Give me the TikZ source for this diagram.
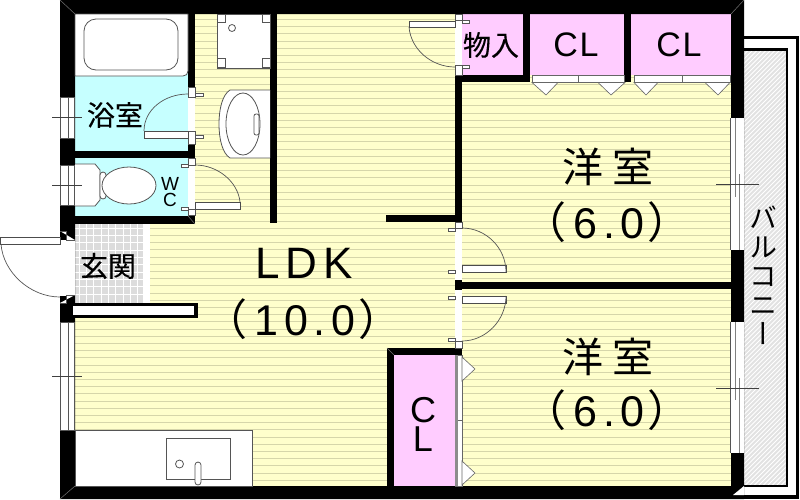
\documentclass[tikz,border=0pt]{standalone}
\usepackage{fontspec}
\setmainfont{Liberation Sans}
\newfontfamily\cjkfont{Noto Sans CJK JP}
\newfontfamily\labelfont[FakeBold=0.25]{Noto Sans CJK JP}
\newfontfamily\vertfont[RawFeature=+vert]{Noto Sans CJK JP}
\newfontfamily\spacedfont[LetterSpace=13]{Liberation Sans}
\newfontfamily\spacedcjk[LetterSpace=22]{Noto Sans CJK JP}
\newfontfamily\closetfont[LetterSpace=5]{Liberation Sans}
\usetikzlibrary{positioning}
\definecolor{floorc}{HTML}{FFFFCC}
\definecolor{stripec}{HTML}{D6D6AA}
\definecolor{pinkc}{HTML}{FFCCFF}
\definecolor{bluec}{HTML}{C6FFFF}
\definecolor{tilec}{HTML}{DCDCDC}
\definecolor{hatchc}{HTML}{E2E2E2}
\definecolor{linec}{HTML}{555555}
\tikzset{
	wall/.style={fill=black,draw=none},
	fixture/.style={fill=white,draw=linec,line width=0.8pt},
	doorleaf/.style={fill=white,draw=black!70,line width=0.6pt},
	doorarc/.style={draw=linec,line width=0.7pt},
	nub/.style={fill=white,draw=linec,line width=0.6pt},
	tick/.style={draw=black!75,line width=0.6pt},
	miter/.style={draw=black!55,line width=0.5pt},
	sash/.style={draw=black!50,line width=1pt}
}
\begin{document}
\begin{tikzpicture}[x=1pt,y=-1pt]
\useasboundingbox (0,0) rectangle (800,499);

\begin{scope}
	\fill[floorc] (75,14) rectangle (731,486);
	\foreach \k in {2,...,66}
		\draw[stripec,line width=0.8pt] (75,5+7.2*\k) -- (731,5+7.2*\k);

	\fill[bluec] (75,14) rectangle (188,151);
	\fill[bluec] (75,158) rectangle (188,216);
	\fill[pinkc] (462,14) rectangle (731,75);
	\fill[pinkc] (394,355) rectangle (456,486);

	\fill[tilec] (75,224) rectangle (143,303);
	\foreach \k in {1,...,9}
		\draw[white,line width=1pt] (75+7.3*\k-3,224) -- (75+7.3*\k-3,303);
	\foreach \k in {1,...,10}
		\draw[white,line width=1pt] (75,224+7.3*\k-3) -- (143,224+7.3*\k-3);
	\fill[white] (143,224) rectangle (150,303);

	\fill[black] (743,36) rectangle (799,499);
	\fill[white] (743,39) rectangle (796,495);
	\fill[black] (743,48) rectangle (788,487);
	\fill[hatchc] (743,51) rectangle (785.5,484.5);
	\begin{scope}
		\clip (743,51) rectangle (785.5,484.5);
		\foreach \k in {0,...,110}
			\draw[white,line width=0.8pt] (743,51+4.5*\k) -- (793,1+4.5*\k);
	\end{scope}
\end{scope}

\begin{scope}[every path/.style={wall}]
	\path[even odd rule] (60,0) rectangle (744,499) (75,14) rectangle (731,486);
	\path (188,14) rectangle (195,87);
	\path (188,144) rectangle (195,158);
	\path (75,151) rectangle (195,158);
	\path (75,216) rectangle (195,224);
	\path (188,209) rectangle (195,224);
	\path (270,14) rectangle (277,223);
	\path (455,75) rectangle (530,82);
	\path (523,14) rectangle (530,82);
	\path (624,14) rectangle (631,82);
	\path (455,75) rectangle (462,222);
	\path (386,215) rectangle (462,222);
	\path (455,280) rectangle (462,290);
	\path (455,281.5) rectangle (731,288.5);
	\path (387,348) rectangle (462,355);
	\path (387,348) rectangle (394,486);
	\path (75,303) rectangle (198,318);
\end{scope}
\fill[white] (73,306) rectangle (194,315);

\begin{scope}[every path/.style={fixture}]
	\path (75,14) -- (188,14) -- (188,71) .. controls (188,74) and (186,76) .. (183,76) -- (75,76) -- cycle;
	\path[rounded corners=12pt] (84,19) rectangle (178,70);

	\path (217,14) rectangle (270,68);
	\path (217,14) rectangle (225,22);
	\path (262,14) rectangle (270,22);
	\path (217,58) rectangle (225,67);
	\path (262,58) rectangle (270,67);
	\path (232,28) circle (3.5);

	\path (270,90) -- (230,90) .. controls (222,95) and (219,110) .. (219,124) .. controls (219,138) and (222,153) .. (230,158) -- (270,158);
	\path (243,124) ellipse (17 and 31);
	\path[rounded corners=2pt] (254,114) rectangle (259,135);

	\path (75,164) -- (95,164) -- (100,170) -- (100,200) -- (95,206) -- (75,206);
	\path[rounded corners=3pt] (100,172) rectangle (106,199);
	\path (129,185.5) ellipse (27 and 18.5);

	\path (75,430) rectangle (252,486);
	\path (166,438) rectangle (230,479);
	\path (179.5,464) circle (4);
	\path[rounded corners=3pt] (195,462) rectangle (201,485);

	\path (60,97) rectangle (74,138);
	\path (60,165) rectangle (74,205);
	\path (60,322) rectangle (74,430);
\end{scope}
\draw[draw=linec,line width=0.8pt] (68,97) -- (68,138);
\draw[draw=linec,line width=0.8pt] (68,165) -- (68,205);
\draw[draw=linec,line width=0.8pt] (68,322) -- (68,430);
\draw[tick] (52,117) -- (82,117);
\draw[tick] (52,185) -- (82,185);
\draw[tick] (52,376) -- (82,376);

\fill[white] (60,240) rectangle (75,296);
\draw[nub] (75,240) -- (66,240) -- (66,231) -- (60,231);
\draw[nub] (75,295) -- (66,295) -- (66,303) -- (60,303);
\fill[white] (188,97) rectangle (195,131);
\fill[white] (188,165) rectangle (195,209);
\fill[white] (455,20) rectangle (462,65);
\fill[white] (455,228) rectangle (462,280);
\fill[white] (455,290) rectangle (462,341);

\begin{scope}[every path/.style={nub}]
	\path (188,87) rectangle (195,97);
	\path (188,131) rectangle (195,144);
	\path (188,158) rectangle (195,165);
	\path (188,209) rectangle (195,215);
	\path (195,93) rectangle (203,96);
	\path (195,135) rectangle (203,138);
	\path (181,164) rectangle (188,167);
	\path (181,207) rectangle (188,210);
	\path (455,14) rectangle (462,20);
	\path (455,65) rectangle (462,75);
	\path (462,20) rectangle (469,23);
	\path (462,65) rectangle (469,68);
	\path (455,222) rectangle (462,228);
	\path (455,341) rectangle (462,348);
	\path (448,228) rectangle (455,231);
	\path (448,270) rectangle (455,273);
	\path (448,296) rectangle (455,299);
	\path (448,338) rectangle (455,341);
\end{scope}

\draw[doorleaf] (144,131) rectangle (188,138);
\draw[doorleaf] (195,202) rectangle (240,209);
\draw[doorleaf] (0,237) rectangle (60,244);
\draw[doorleaf] (409,21) rectangle (455,27);
\draw[doorleaf] (462,265.5) rectangle (506,272.5);
\draw[doorleaf] (462,296) rectangle (506,303.5);
\draw[doorarc] (188,94) .. controls (164,94) and (144,110) .. (144,131);
\draw[doorarc] (195,165) .. controls (218,165) and (238,182) .. (240,202);
\draw[doorarc] (1,244) .. controls (3,272) and (30,297) .. (60,297);
\draw[doorarc] (409,27) .. controls (411,50) and (432,67) .. (455,67);
\draw[doorarc] (462,228) .. controls (486,228) and (506,248) .. (506,272);
\draw[doorarc] (506,296) .. controls (506,320) and (486,341) .. (462,341);

\begin{scope}[every path/.style={fill=white,draw=black!60,line width=0.6pt}]
	\path (532,75) rectangle (578,82);
	\path (578,75) rectangle (624,82);
	\path (634,75) rectangle (682,82);
	\path (682,75) rectangle (730,82);
	\path (532,82.5) -- (558,82.5) -- (546,95) -- cycle;
	\path (598,82.5) -- (625,82.5) -- (611,95) -- cycle;
	\path (634,82.5) -- (658,82.5) -- (646,95) -- cycle;
	\path (705,82.5) -- (730,82.5) -- (718,95) -- cycle;
	\path (455.5,355) rectangle (462,420.5);
	\path (455.5,420.5) rectangle (462,486);
	\path (462,357) -- (475,369) -- (462,381) -- cycle;
	\path (462,461) -- (475,473) -- (462,485) -- cycle;
\end{scope}
\fill[black!45] (455,355) rectangle (458,486);

\fill[white] (730,118) rectangle (743.5,250);
\fill[white] (730,322) rectangle (743.5,453);
\draw[sash] (735,118) -- (735,197);
\draw[sash] (739,174) -- (739,250);
\draw[sash] (735,322) -- (735,400);
\draw[sash] (739,378) -- (739,453);
\draw[draw=linec,line width=0.7pt] (730.5,118) -- (730.5,250) (730.5,322) -- (730.5,453);
\draw[tick] (716,184.5) -- (759,184.5);
\draw[tick] (716,388) -- (759,388);

\fill[white] (744,486) -- (733,495) -- (744,495) -- cycle;
\draw[miter] (60,0) -- (75,14);
\draw[miter] (744,0) -- (731,14);
\draw[miter] (60,499) -- (75,486);
\draw[miter] (387,348) -- (394,355);
\draw[miter] (195,224) -- (188,216);

\node[font=\spacedfont\fontsize{44}{44}\selectfont] (ldk) at (304,263) {LDK};
\node[font=\spacedfont\fontsize{43}{43}\selectfont] (ldksize) at (303,319) {{\cjkfont（}\hspace{7pt}10.0\hspace{3pt}{\cjkfont）}};
\node[font=\spacedcjk\fontsize{41}{41}\selectfont] (upperroom) at (608,167) {洋室};
\node[font=\spacedfont\fontsize{43}{43}\selectfont] (uppersize) at (607,222) {{\cjkfont（}\hspace{7pt}6.0\hspace{3pt}{\cjkfont）}};
\node[font=\spacedcjk\fontsize{41}{41}\selectfont] (lowerroom) at (608,357) {洋室};
\node[font=\spacedfont\fontsize{43}{43}\selectfont] (lowersize) at (607,410) {{\cjkfont（}\hspace{7pt}6.0\hspace{3pt}{\cjkfont）}};
\node[font=\labelfont\fontsize{28}{28}\selectfont] (bath) at (115,115) {浴室};
\node[font=\labelfont\fontsize{28}{28}\selectfont] (entry) at (108,266) {玄関};
\node[font=\labelfont\fontsize{28}{28}\selectfont] (store) at (491,45) {物入};
\node[font=\closetfont\fontsize{34}{34}\selectfont] (closeta) at (576,44.5) {CL};
\node[font=\closetfont\fontsize{34}{34}\selectfont] (closetb) at (679,44.5) {CL};
\node[font=\fontsize{36}{29}\selectfont,align=center] (closetc) at (423,424.5) {C\\L};
\node[font=\fontsize{19}{16}\selectfont,align=center] (wc) at (170,192) {W\\C};
\node[font=\vertfont\fontsize{28}{29}\selectfont,align=center] (balcony) at (763,275) {バ\\ル\\コ\\ニ\\ー};

\end{tikzpicture}
\end{document}
